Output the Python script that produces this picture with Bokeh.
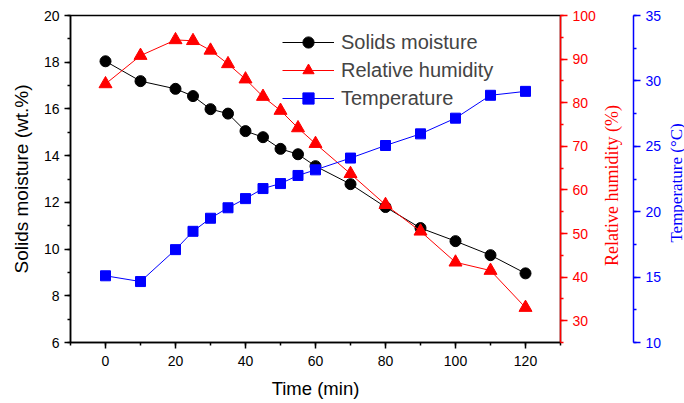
import math
from bokeh.plotting import figure
from bokeh.layouts import row
from bokeh.models import Range1d, LinearAxis, SingleIntervalTicker, Legend, LegendItem, Label
from bokeh.embed import file_html
from bokeh.resources import INLINE

time_min = [0, 10, 20, 25, 30, 35, 40, 45, 50, 55, 60, 70, 80, 90, 100, 110, 120]
solids_moisture = [18.04, 17.19, 16.86, 16.55, 15.99, 15.8, 15.05, 14.79, 14.29, 14.06, 13.55, 12.78, 11.8, 10.9, 10.34, 9.74, 8.96]
relative_humidity = [84.3, 90.8, 94.4, 94.2, 92.0, 88.9, 85.4, 81.4, 78.2, 74.2, 70.6, 63.7, 56.6, 50.5, 43.4, 41.5, 33.0]
temperature = [15.1, 14.66, 17.1, 18.5, 19.5, 20.3, 21.0, 21.77, 22.15, 22.77, 23.2, 24.1, 25.06, 25.95, 27.15, 28.9, 29.2]

SANS = "Liberation Sans"
SERIF = "Liberation Serif"
RED = "#ff0000"
BLUE = "#0000ff"
H = 403
TOP, BOTTOM = 15, 61

def style_axis(ax, color, title_font="Liberation Sans", title_size="17px"):
    ax.axis_line_color = color
    ax.major_tick_line_color = color
    ax.minor_tick_line_color = color
    ax.major_label_text_color = color
    ax.axis_label_text_color = color
    ax.major_label_text_font = SANS
    ax.major_label_text_font_size = "14px"
    ax.axis_label_text_font = title_font
    ax.axis_label_text_font_size = title_size
    ax.axis_label_text_font_style = "normal"
    ax.major_tick_out = 6
    ax.major_tick_in = 0
    ax.minor_tick_out = 3
    ax.minor_tick_in = 0
    ax.axis_line_width = 1.5
    ax.major_tick_line_width = 1.5
    ax.minor_tick_line_width = 1.5

# ---------- main panel ----------
p = figure(width=598, height=H, output_backend="svg", toolbar_location=None,
           x_range=Range1d(-10, 130), y_range=Range1d(6, 20),
           min_border_left=70, min_border_right=37, min_border_top=TOP, min_border_bottom=BOTTOM)
p.extra_y_ranges = {"rh": Range1d(25, 100), "temp": Range1d(10, 35)}
p.grid.visible = False
p.outline_line_color = "black"
p.outline_line_width = 1.5

xa = p.xaxis[0]
xa.ticker = SingleIntervalTicker(interval=20, num_minor_ticks=2)
xa.axis_label = "Time (min)"
style_axis(xa, "black", SANS, "18.5px")
xa.major_label_standoff = 7
xa.axis_label_standoff = 9

ya = p.yaxis[0]
ya.ticker = SingleIntervalTicker(interval=2, num_minor_ticks=2)
ya.axis_label = "Solids moisture (wt.%)"
style_axis(ya, "black", SANS, "19px")
ya.major_label_standoff = 5
ya.axis_label_standoff = 9

ra = LinearAxis(y_range_name="rh", ticker=SingleIntervalTicker(interval=10, num_minor_ticks=2))
style_axis(ra, RED)
ra.major_tick_out = 7
ra.major_label_standoff = 5
p.add_layout(ra, "right")

l1 = p.line(time_min, solids_moisture, line_color="black", line_width=1)
m1 = p.scatter(time_min, solids_moisture, marker="circle", size=11, fill_color="black", line_color="black")
l2 = p.line(time_min, relative_humidity, line_color=RED, line_width=1, y_range_name="rh")
m2 = p.scatter(time_min, relative_humidity, marker="triangle", size=13, fill_color=RED, line_color=RED, y_range_name="rh")
l3 = p.line(time_min, temperature, line_color=BLUE, line_width=1, y_range_name="temp")
m3 = p.scatter(time_min, temperature, marker="square", size=10, fill_color=BLUE, line_color=BLUE, y_range_name="temp")

legend = Legend(items=[
    LegendItem(label="Solids moisture", renderers=[l1, m1]),
    LegendItem(label="Relative humidity", renderers=[l2, m2]),
    LegendItem(label="Temperature", renderers=[l3, m3]),
], location=(212, 230))
legend.label_text_font = SANS
legend.label_text_font_size = "20px"
legend.glyph_width = 52
legend.glyph_height = 28
legend.label_height = 28
legend.label_standoff = 7
legend.spacing = 0
legend.padding = 0
legend.margin = 0
legend.border_line_alpha = 0
legend.background_fill_alpha = 0
p.add_layout(legend, "center")

# ---------- side panel: red title + blue axis ----------
s1 = figure(width=66, height=H, output_backend="svg", toolbar_location=None,
            x_range=Range1d(0, 37), y_range=Range1d(10, 35),
            x_axis_location=None, y_axis_location="right",
            min_border_left=0, min_border_right=29, min_border_top=TOP, min_border_bottom=BOTTOM)
s1.grid.visible = False
s1.outline_line_color = None
ba = s1.yaxis[0]
ba.ticker = SingleIntervalTicker(interval=5, num_minor_ticks=2)
style_axis(ba, BLUE)
ba.major_tick_out = 7
ba.major_label_standoff = 5
s1.add_layout(Label(x=14.5, y=22.0, angle=math.pi / 2, text="Relative humidity (%)",
                    text_align="center", text_baseline="middle", text_font=SERIF,
                    text_font_size="18px", text_color=RED))

# ---------- side panel: blue title ----------
s2 = figure(width=20, height=H, output_backend="svg", toolbar_location=None,
            x_range=Range1d(0, 20), y_range=Range1d(10, 35),
            x_axis_location=None, y_axis_location=None,
            min_border_left=0, min_border_right=0, min_border_top=TOP, min_border_bottom=BOTTOM)
s2.grid.visible = False
s2.outline_line_color = None
s2.add_layout(Label(x=11.5, y=22.2, angle=math.pi / 2, text="Temperature (°C)",
                    text_align="center", text_baseline="middle", text_font=SERIF,
                    text_font_size="17px", text_color=BLUE))

layout = row(p, s1, s2, spacing=0)
open("out.html", "w").write(file_html(layout, INLINE))
